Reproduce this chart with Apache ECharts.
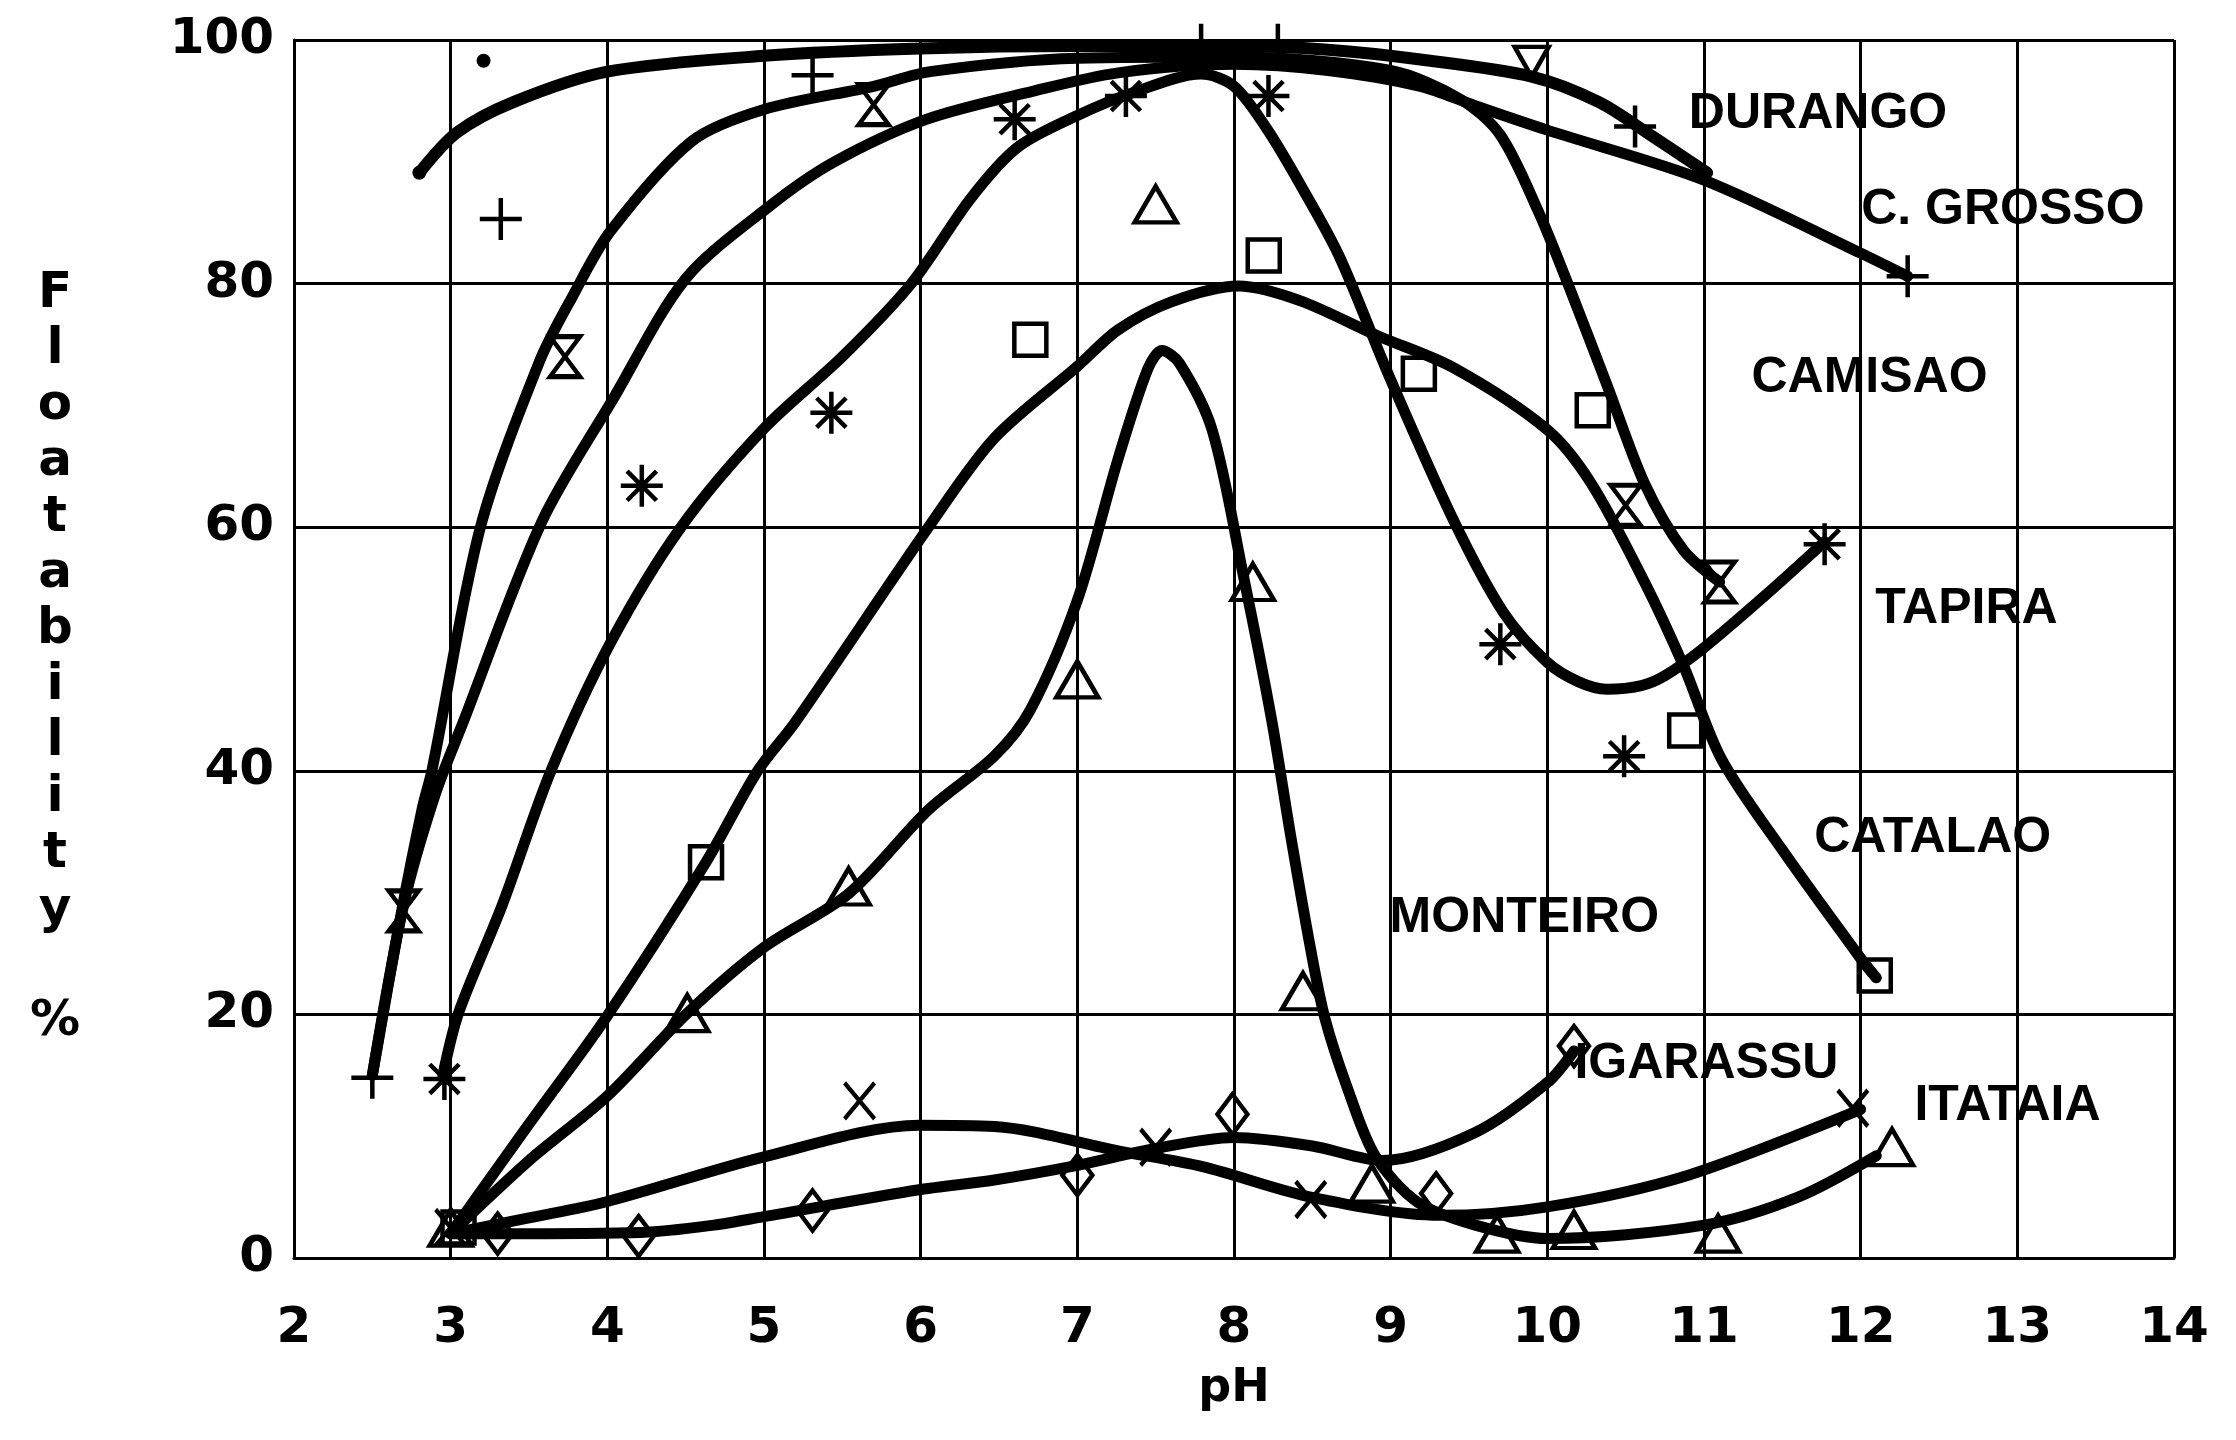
<!DOCTYPE html>
<html><head><meta charset="utf-8">
<script src="https://cdn.jsdelivr.net/npm/echarts@6/dist/echarts.min.js"></script>
<style>html,body{margin:0;padding:0;background:#fff}#chart{width:2236px;height:1440px}</style>
</head><body><div id="chart"></div>
<script>
// ---- curves: [pH, floatability %] ----
const durangoCurve = [[2.8,89.1],[3.04,92.4],[3.4,94.9],[4.0,97.4],[5.0,98.7],[6.0,99.3],[7.0,99.5],[8.0,99.5],[8.6,99.2],[9.19,98.4],[9.9,97.0],[10.33,94.9],[10.67,92.1],[11.02,89.1]];
const grossoCurve = [[2.5,15],[2.7,29],[2.9,38],[3.08,44],[3.58,60.4],[4.04,70.6],[4.5,80.4],[5.04,86.4],[5.45,90],[6.04,93.5],[6.72,95.8],[7.26,97.3],[8.0,98],[8.6,97.5],[9.19,96.2],[9.54,94.6],[10.0,92.6],[11.0,88.5],[12.0,82.5],[12.3,80.6]];
const camisaoCurve = [[2.5,15],[2.68,28],[2.82,37],[2.88,40],[3.19,60],[3.57,73.7],[3.78,79],[4.02,84.3],[4.54,91.7],[5.0,94.3],[5.7,96.2],[6.06,97.4],[7.0,98.5],[8.0,98.6],[9.0,97.5],[9.45,95.1],[9.7,92.2],[9.94,86],[10.14,79.7],[10.38,71.7],[10.62,63.6],[10.87,58.1],[11.1,55.5]];
const tapiraCurve = [[2.95,15],[3.05,20.1],[3.33,29],[3.64,40],[4.02,50.5],[4.47,60],[5.0,68.1],[5.5,74],[5.94,80],[6.32,87],[6.62,91.2],[7.0,93.8],[7.36,95.7],[7.79,97.2],[8.0,96.2],[8.21,92.7],[8.42,88.2],[8.67,82.3],[8.99,72.4],[9.4,60.6],[9.72,53],[10.0,48.9],[10.2,47.3],[10.38,46.7],[10.6,47],[10.75,47.8],[10.99,50],[11.4,54.5],[11.77,58.8]];
const catalaoCurve = [[3.0,2],[3.5,11],[3.99,19.7],[4.63,32.5],[4.96,40],[5.2,44],[6.05,60],[6.47,67.3],[7.0,73.2],[7.26,76.2],[7.6,78.5],[8.03,79.8],[8.42,78.6],[8.92,75.7],[9.4,73.1],[10.0,68],[10.28,63.6],[10.62,55.5],[10.87,48.6],[11.11,41],[11.5,33.5],[12.0,24.6],[12.1,23]];
const monteiroCurve = [[3.0,2],[3.5,8],[4.0,13.3],[4.51,20.1],[5.0,25.5],[5.54,29.9],[6.05,36.8],[6.47,41.2],[6.7,45],[7.0,54],[7.26,65.6],[7.45,73],[7.54,74.5],[7.65,73.5],[7.86,68],[8.06,56],[8.24,44.2],[8.36,34.8],[8.49,25.3],[8.58,19.7],[8.72,14.1],[8.9,8.4],[9.17,4.6],[9.54,2.7],[10.0,1.6],[11.0,2.7],[11.6,5.0],[12.1,8.4]];
const igarassuCurve = [[3.0,2],[3.31,2.0],[4.22,2.1],[4.68,2.7],[5.0,3.4],[5.99,5.6],[6.47,6.4],[7.0,7.6],[7.5,9.0],[8.0,9.9],[8.5,9.2],[8.95,8.0],[9.54,10.3],[10.0,14.4],[10.17,17]];
const itataiaCurve = [[3.0,2],[3.5,3.3],[3.99,4.6],[5.0,8.3],[5.99,10.9],[6.47,10.8],[7.26,8.8],[7.8,7.5],[8.49,5.0],[9.31,3.5],[10.0,4.2],[10.9,6.8],[12.0,12.2]];

// ---- measured points (markers) ----
const durangoPts = [[2.8,89.1],[3.21,98.3]];
const durangoTri = [[9.9,98.2]];
const grossoPts = [[2.5,14.8],[3.32,85.3],[5.31,97.1],[7.79,99.6],[8.28,99.6],[10.56,92.9],[12.3,80.6]];
const camisaoPts = [[2.7,28.5],[3.73,74],[5.7,94.7],[10.5,61.8],[11.1,55.5]];
const tapiraPts = [[2.96,14.7],[4.22,63.4],[5.43,69.4],[6.6,93.5],[7.31,95.4],[8.22,95.4],[9.7,50.4],[10.49,41.2],[11.77,58.6]];
const catalaoPts = [[3.05,2.5],[4.63,32.5],[6.7,75.4],[8.19,82.3],[9.18,72.6],[10.29,69.6],[10.88,43.3],[12.09,23.2]];
const monteiroPts = [[3.0,2.5],[4.51,20.1],[5.54,30.5],[7.0,47.5],[7.5,86.5],[8.12,55.5],[8.44,21.9],[8.88,6.1],[9.68,2.0],[10.17,2.3],[11.09,2.0],[12.2,9.1]];
const igarassuPts = [[3.3,2.0],[4.2,1.8],[5.31,3.9],[7.0,6.8],[7.99,11.8],[9.29,5.3],[10.17,17.4]];
const itataiaPts = [[3.0,2.5],[5.61,12.9],[7.5,9.1],[8.49,4.8],[11.95,12.3]];

// ---- curve labels [name, pH at left edge, value at middle] ----
const curveLabels = [["DURANGO",10.9,93.9],["C. GROSSO",12.0,86.0],["CAMISAO",11.3,72.2],["TAPIRA",12.09,53.3],["CATALAO",11.7,34.5],["MONTEIRO",8.99,27.9],["IGARASSU",10.17,15.9],["ITATAIA",12.34,12.5]];

const yTitle = "Floatability";
const yUnit = "%";
const xTitle = "pH";

const SYM_PLUS = 'path://M5,0L5,10M0,5L10,5';
const SYM_STAR = 'path://M5,0L5,10M0,5L10,5M1.5,1.5L8.5,8.5M8.5,1.5L1.5,8.5';
const SYM_X = 'path://M0,0L10,12M10,0L0,12';
const SYM_HOUR = 'path://M0,0L10,0L0,12L10,12Z';

function curve(name, data, w) {
  return {type:'line', name:name, data:data, smooth:0.3, showSymbol:false, symbol:'none',
    lineStyle:{color:'#000', width:w||11, cap:'round', join:'round', opacity:1}, silent:true, z:2, animation:false};
}
function marks(name, data, symbol, size, filled, extra) {
  const s = {type:'scatter', name:name, data:data, symbol:symbol, symbolSize:size, silent:true, z:3, animation:false,
    itemStyle: filled ? {color:'#000', opacity:1} : {color:'rgba(0,0,0,0)', borderColor:'#000', borderWidth:4.5, opacity:1}};
  return Object.assign(s, extra||{});
}

const series = [
  curve('DURANGO', durangoCurve, 12),
  curve('C. GROSSO', grossoCurve, 11),
  curve('CAMISAO', camisaoCurve, 11),
  curve('TAPIRA', tapiraCurve, 11),
  curve('CATALAO', catalaoCurve, 11),
  curve('MONTEIRO', monteiroCurve, 11),
  curve('IGARASSU', igarassuCurve, 11),
  curve('ITATAIA', itataiaCurve, 11),
  marks('DURANGO pts', durangoPts, 'circle', 14, true),
  marks('DURANGO tri', durangoTri, 'triangle', [34,30], false, {symbolRotate:180}),
  marks('C. GROSSO pts', grossoPts, SYM_PLUS, 42, false),
  marks('CAMISAO pts', camisaoPts, SYM_HOUR, [30,40], false),
  marks('TAPIRA pts', tapiraPts, SYM_STAR, 42, false),
  marks('CATALAO pts', catalaoPts, 'rect', 32, false),
  marks('MONTEIRO pts', monteiroPts, 'triangle', [42,36], false),
  marks('IGARASSU pts', igarassuPts, 'diamond', [30,40], false),
  marks('ITATAIA pts', itataiaPts, SYM_X, [30,36], false),
  {type:'scatter', name:'labels', silent:true, z:5, animation:false, symbol:'circle', symbolSize:1,
    itemStyle:{color:'rgba(0,0,0,0)', opacity:1},
    data: curveLabels.map(function(l){return {name:l[0], value:[l[1], l[2]]};}),
    label:{show:true, formatter:'{b}', position:'right', distance:0, color:'#000', opacity:1,
      fontFamily:'Liberation Sans', fontWeight:'bold', fontSize:50}}
];

const chart = echarts.init(document.getElementById('chart'), null, {renderer:'canvas'});
chart.setOption({
  backgroundColor:'#fff',
  animation:false,
  grid:{left:294, right:62, top:40, bottom:182, containLabel:false},
  xAxis:{type:'value', min:2, max:14, interval:1,
    name:xTitle, nameLocation:'middle', nameGap:108,
    nameTextStyle:{fontFamily:'DejaVu Sans', fontWeight:'bold', fontSize:46, color:'#000'},
    axisLine:{show:true, lineStyle:{color:'#000', width:3}}, axisTick:{show:false},
    axisLabel:{fontFamily:'DejaVu Sans', fontWeight:'bold', fontSize:50, color:'#000', margin:46},
    splitLine:{show:true, lineStyle:{color:'#000', width:3}}},
  yAxis:{type:'value', min:0, max:100, interval:20,
    axisLine:{show:true, lineStyle:{color:'#000', width:3}}, axisTick:{show:false},
    axisLabel:{fontFamily:'DejaVu Sans', fontWeight:'bold', fontSize:50, color:'#000', margin:20},
    splitLine:{show:true, lineStyle:{color:'#000', width:3}}},
  graphic:[{type:'text', x:55, y:266, silent:true,
    style:{text: yTitle.split('').join('\n') + '\n\n' + yUnit, fill:'#000', align:'center', verticalAlign:'top',
      font:'bold 50px "DejaVu Sans"', lineHeight:56}}],
  series: series
});
</script></body></html>
